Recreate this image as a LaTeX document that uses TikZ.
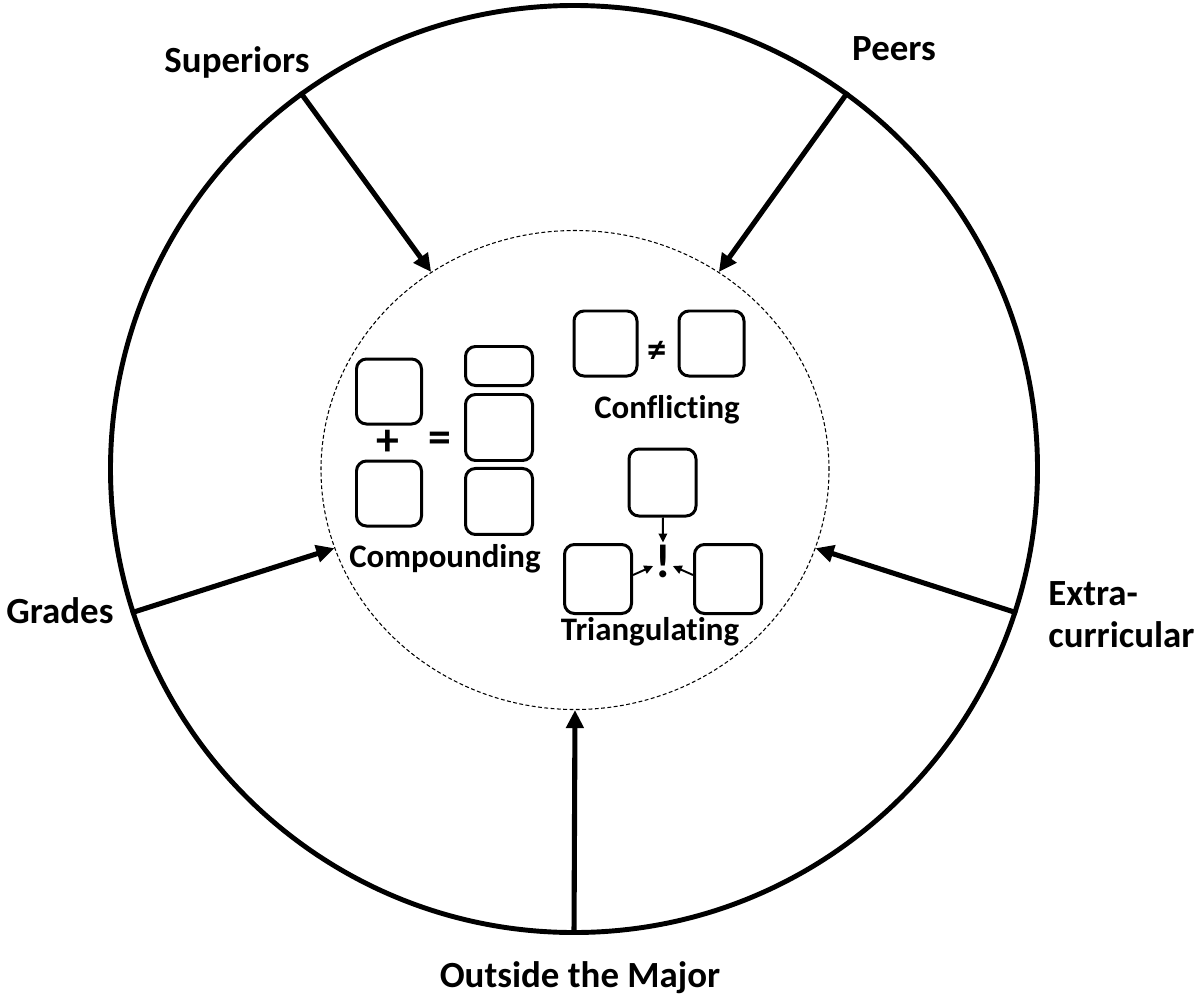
\documentclass[tikz,border=0pt]{standalone}
\usepackage{fontspec}
\setmainfont{Carlito}[Ligatures=NoCommon]
\usetikzlibrary{arrows.meta,shapes.geometric,positioning}

\begin{document}
\begin{tikzpicture}[x=0.2mm,y=-0.2mm,>={Triangle[length=3.6mm,width=3.4mm]}]
    \tikzstyle{blk}=[draw,line width=1.7pt,rounded corners=2mm,minimum width=13mm,minimum height=13mm,inner sep=0pt]
    \tikzstyle{lbl}=[font=\fontsize{21}{25}\selectfont\bfseries,anchor=base,inner sep=0pt]
    \tikzstyle{txt}=[font=\fontsize{18.7}{22}\selectfont\bfseries,anchor=base,inner sep=0pt]
    \tikzstyle{sym}=[font=\fontsize{26}{26}\selectfont\bfseries,inner sep=1pt]
    \tikzstyle{feed}=[->,line width=2.9pt]
    \tikzstyle{tiny}=[-{Triangle[length=1.8mm,width=1.7mm]},line width=1.1pt]
    \useasboundingbox (0,0) rectangle (1200,1000);
    % the two rings
    \node[circle,draw,line width=2.8pt,minimum size=185.4mm,inner sep=0pt] (outer) at (574,469) {};
    \node[ellipse,draw,dash pattern=on 2.2pt off 1.4pt,line width=0.6pt,minimum width=101.6mm,minimum height=95.8mm,inner sep=0pt] (inner) at (575,470) {};
    % sources of feedback
    \node[lbl] (sup) at (237,72) {Superiors};
    \node[lbl] (peer) at (894,60) {Peers};
    \node[lbl,anchor=base west] (grd) at (6,623) {Grades};
    \node[lbl,anchor=base west] (xtrA) at (1048,605) {Extra-};
    \node[lbl,anchor=base west] (xtrB) at (1048,647) {curricular};
    \node[lbl] (major) at (580,987) {Outside the Major};
    \foreach \a in {126,54,198,342,270}
        \draw[feed] (outer.\a) -- (inner.\a);
    % compounding
    \node[blk] (cA) at (389,391.5) {};
    \node[blk] (cB) at (389,493.5) {};
    \node[sym] (plus) at (387.5,443) {+};
    \node[sym] (eq) at (440,442) {=};
    \node[blk,minimum width=13.4mm,minimum height=7.8mm] (cR1) at (499,366) {};
    \node[blk,minimum width=13.4mm,minimum height=13.2mm] (cR2) [below=1.2mm of cR1] {};
    \node[blk,minimum width=13.4mm,minimum height=13.2mm] (cR3) [below=1.0mm of cR2] {};
    \node[txt] (cmp) at (445,567) {Compounding};
    % conflicting
    \node[blk,minimum width=12.6mm] (fA) at (605.5,343.5) {};
    \node[blk] (fB) at (711.5,343.5) {};
    \node[sym,font=\fontsize{22}{22}\selectfont\bfseries] (neq) at (657,352) {≠};
    \node[txt] (cnf) at (667,418) {Conflicting};
    % triangulating
    \node[blk,minimum width=13.4mm,minimum height=13.4mm] (tT) at (662.5,482.5) {};
    \node[blk,minimum width=13.4mm,minimum height=13.8mm] (tL) at (598,579) {};
    \node[blk,minimum width=13.4mm,minimum height=13.8mm] (tR) at (728,579) {};
    \node[sym,font=\fontsize{27}{27}\selectfont\bfseries] (bang) at (663,561) {!};
    \path
        (tT) edge[tiny] (bang.north)
        ([yshift=0.8mm]tL.east) edge[tiny] ([yshift=-1mm]bang.west)
        ([yshift=0.8mm]tR.west) edge[tiny] ([yshift=-1mm]bang.east);
    \node[txt] (tri) at (650,640) {Triangulating};
\end{tikzpicture}
\end{document}
